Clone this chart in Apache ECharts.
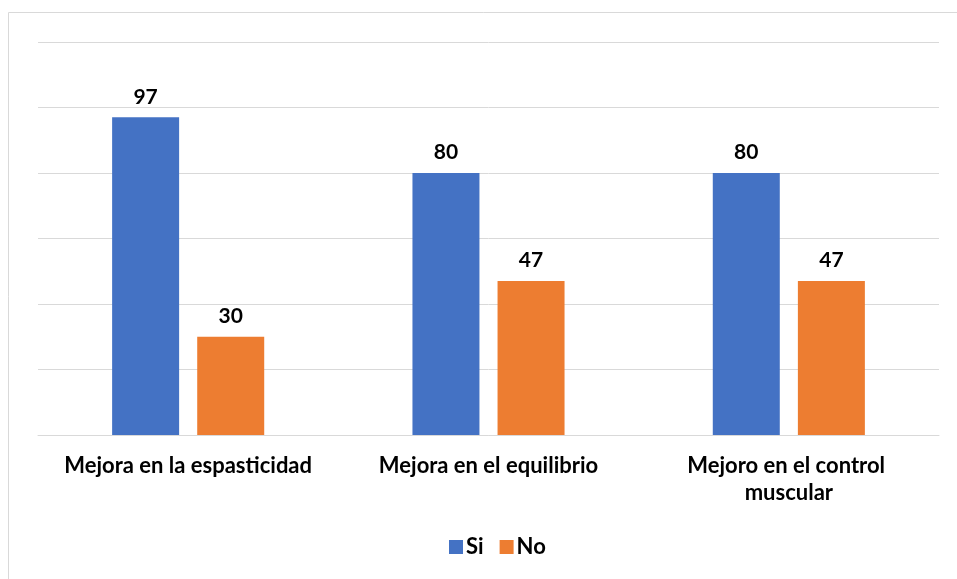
<!DOCTYPE html>
<html><head><meta charset="utf-8">
<script src="https://cdn.jsdelivr.net/npm/echarts@6/dist/echarts.min.js"></script>
<style>html,body{margin:0;padding:0;background:#fff}#c{width:957px;height:579px}</style>
</head><body><div id="c"></div>
<script>
var categories = ['Mejora en la espasticidad', 'Mejora en el equilibrio', 'Mejoro en el control muscular'];
var siValues = [97, 80, 80];
var noValues = [30, 47, 47];
var seriesNames = ['Si', 'No'];

var chart = echarts.init(document.getElementById('c'));
var font = 'Lato, "Open Sans", sans-serif';
var lbl = {show: true, position: 'top', distance: 10, color: '#000', fontFamily: font, fontWeight: 'bold', fontSize: 21};
chart.setOption({
  animation: false,
  graphic: [{type: 'rect', shape: {x: 8.5, y: 12.5, width: 980, height: 600}, style: {fill: 'none', stroke: '#d9d9d9', lineWidth: 1}, silent: true}],
  grid: {left: 38, right: 18, top: 42, bottom: 144},
  legend: {bottom: 16, left: 444, itemWidth: 14, itemHeight: 14, itemGap: 16, icon: 'rect',
    textStyle: {fontFamily: font, fontWeight: 'bold', fontSize: 22, color: '#000', padding: [0, 0, 0, -2]},
    data: seriesNames},
  xAxis: {type: 'category', data: categories,
    axisLine: {lineStyle: {color: '#d9d9d9', width: 1}}, axisTick: {show: false},
    axisLabel: {interval: 0, margin: 17, color: '#000', fontFamily: font, fontWeight: 'bold', fontSize: 22, lineHeight: 27, width: 280, overflow: 'break'}},
  yAxis: {type: 'value', min: 0, max: 120, interval: 20, axisLabel: {show: false},
    axisLine: {show: false}, axisTick: {show: false},
    splitLine: {lineStyle: {color: '#d9d9d9', width: 1}}},
  series: [
    {name: seriesNames[0], type: 'bar', data: siValues, barWidth: 67, barGap: '27%', itemStyle: {color: '#4472C4'}, label: lbl},
    {name: seriesNames[1], type: 'bar', data: noValues, barWidth: 67, itemStyle: {color: '#ED7D31'}, label: lbl}
  ]
});
</script></body></html>
